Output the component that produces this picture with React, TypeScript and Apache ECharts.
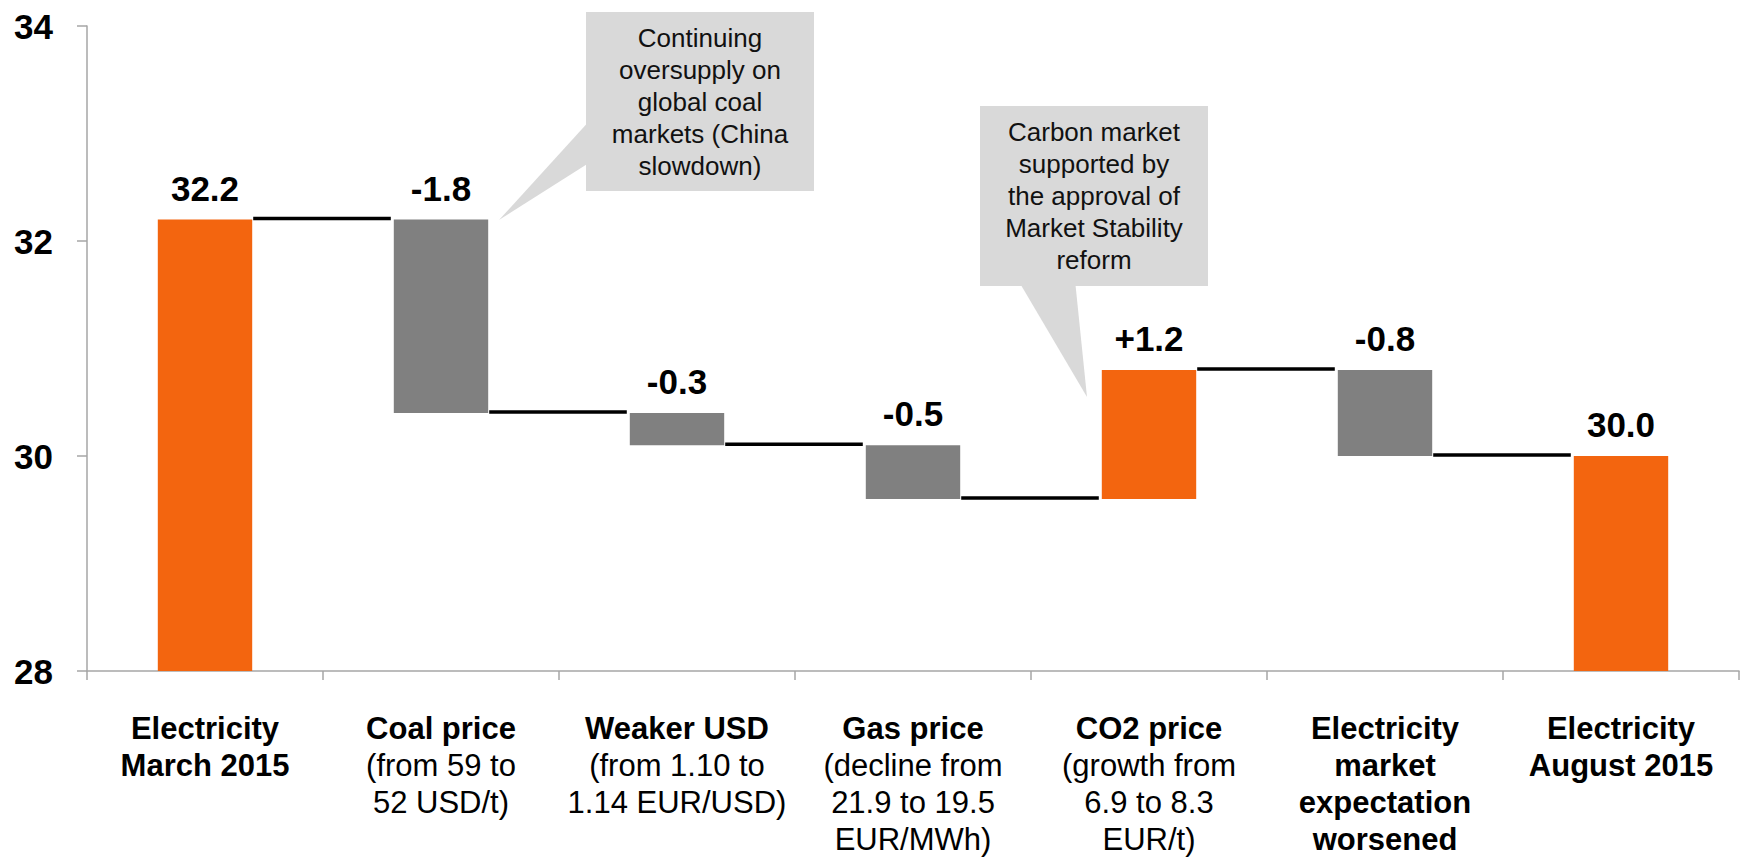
import React, { useEffect, useRef } from "react";
import * as echarts from "echarts";

// ---------- data ----------
const categoryTitles: string[][] = [
  ["Electricity", "March 2015"],
  ["Coal price"],
  ["Weaker USD"],
  ["Gas price"],
  ["CO2 price"],
  ["Electricity", "market", "expectation", "worsened"],
  ["Electricity", "August 2015"],
];
const categoryDetails: string[][] = [
  [],
  ["(from 59 to", "52 USD/t)"],
  ["(from 1.10 to", "1.14 EUR/USD)"],
  ["(decline from", "21.9 to 19.5", "EUR/MWh)"],
  ["(growth from", "6.9 to 8.3", "EUR/t)"],
  [],
  [],
];
const startValue = 32.2;
const changes = [-1.8, -0.3, -0.5, 1.2, -0.8];
const endValue = 30.0;
const valueLabels = ["32.2", "-1.8", "-0.3", "-0.5", "+1.2", "-0.8", "30.0"];
const yMin = 28;
const yMax = 34;
const yInterval = 2;
const calloutCoal = ["Continuing", "oversupply on", "global coal", "markets (China", "slowdown)"];
const calloutCarbon = ["Carbon market", "supported by", "the approval of", "Market Stability", "reform"];

// ---------- derived ----------
const categoryNames = categoryTitles.map((t) => t.join(" "));
const totals: number[] = [startValue];
changes.forEach((c, i) => totals.push(+(totals[i] + c).toFixed(2)));
const baseValues = [0, ...changes.map((_, i) => Math.min(totals[i], totals[i + 1])), 0];
const barValues = [startValue, ...changes.map((c) => Math.abs(c)), endValue];
const barIsGrey = [false, ...changes.map((c) => c < 0), false];
const connectorData = totals.map((v, i) => [i, v]);

// ---------- styles ----------
const FONT = '"Liberation Sans", Arial, Helvetica, sans-serif';
const ORANGE = "#F3650F";
const GREY = "#808080";
const CALLOUT = "#D9D9D9";
const AXIS = "#A6A6A6";
const BAR_FRAC = 0.4;

export default function App() {
  const ref = useRef<HTMLDivElement>(null);

  useEffect(() => {
    if (!ref.current) return;
    const chart = echarts.init(ref.current, undefined, { renderer: "svg" });

    const calloutGraphic = (
      lines: string[],
      box: [number, number, number, number],
      pointer: number[][]
    ) => ({
      type: "group",
      children: [
        { type: "polygon", shape: { points: pointer }, style: { fill: CALLOUT } },
        {
          type: "rect",
          shape: { x: box[0], y: box[1], width: box[2], height: box[3] },
          style: { fill: CALLOUT },
        },
        {
          type: "text",
          x: box[0] + box[2] / 2,
          y: box[1] + box[3] / 2,
          style: {
            text: lines.join("\n"),
            fill: "#111",
            fontSize: 26,
            fontFamily: FONT,
            lineHeight: 32,
            align: "center",
            verticalAlign: "middle",
          },
        },
      ],
    });

    chart.setOption({
      animation: false,
      grid: { left: 87, right: 7, top: 26, bottom: 187 },
      xAxis: {
        type: "category",
        data: categoryNames,
        axisLine: { show: true, lineStyle: { color: AXIS, width: 1.5 } },
        axisTick: { show: true, length: 9, alignWithLabel: false, lineStyle: { color: AXIS, width: 1.5 } },
        axisLabel: {
          interval: 0,
          margin: 39,
          formatter: (_v: string, idx: number) => {
            const b = categoryTitles[idx].map((l) => `{b|${l}}`);
            const n = categoryDetails[idx].map((l) => `{n|${l}}`);
            return [...b, ...n].join("\n");
          },
          rich: {
            b: { fontSize: 31, fontWeight: "bold", lineHeight: 37, fontFamily: FONT, color: "#000" },
            n: { fontSize: 31, fontWeight: "normal", lineHeight: 37, fontFamily: FONT, color: "#000" },
          },
        },
      },
      yAxis: {
        type: "value",
        min: yMin,
        max: yMax,
        interval: yInterval,
        axisLine: { show: true, lineStyle: { color: AXIS, width: 1.5 } },
        axisTick: { show: true, length: 10, lineStyle: { color: AXIS, width: 1.5 } },
        splitLine: { show: false },
        axisLabel: { fontSize: 35, fontWeight: "bold", color: "#000", fontFamily: FONT, margin: 34 },
      },
      series: [
        {
          type: "bar",
          stack: "w",
          data: baseValues,
          barWidth: `${BAR_FRAC * 100}%`,
          itemStyle: { color: "transparent" },
          silent: true,
          emphasis: { disabled: true },
        },
        {
          type: "bar",
          stack: "w",
          barWidth: `${BAR_FRAC * 100}%`,
          data: barValues.map((v, i) => ({
            value: v,
            itemStyle: { color: barIsGrey[i] ? GREY : ORANGE },
          })),
          label: {
            show: true,
            position: "top",
            distance: 14,
            formatter: (p: any) => valueLabels[p.dataIndex],
            fontSize: 35,
            fontWeight: "bold",
            color: "#000",
            fontFamily: FONT,
          },
        },
        {
          type: "custom",
          data: connectorData,
          encode: { x: 0, y: 1 },
          z: 5,
          renderItem: (params: any, api: any) => {
            const i = api.value(0);
            const v = api.value(1);
            const p1 = api.coord([i, v]);
            const p2 = api.coord([i + 1, v]);
            const half = (api.size([1, 0])[0] * BAR_FRAC) / 2;
            return {
              type: "line",
              shape: { x1: p1[0] + half + 1, y1: p1[1] - 1, x2: p2[0] - half - 3, y2: p2[1] - 1 },
              style: { stroke: "#000", lineWidth: 3.5 },
            };
          },
        },
      ],
      graphic: [
        calloutGraphic(calloutCoal, [586, 12, 228, 179], [[592, 118], [592, 161], [499, 220]]),
        calloutGraphic(calloutCarbon, [980, 106, 228, 180], [[1018, 280], [1075, 280], [1087, 397]]),
      ],
    });

    return () => chart.dispose();
  }, []);

  return (
    <div
      ref={ref}
      style={{ position: "fixed", left: 0, top: 0, width: 1746, height: 858, background: "#fff" }}
    />
  );
}
